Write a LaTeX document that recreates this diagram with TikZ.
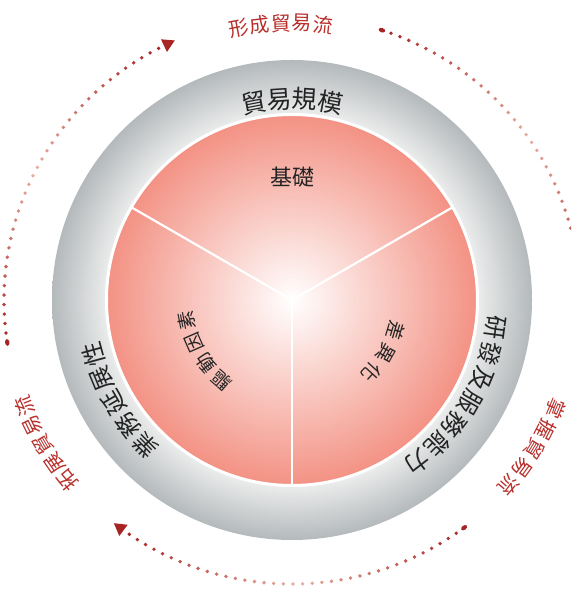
\documentclass[tikz,border=0pt]{standalone}
\usepackage{fontspec}
\newfontfamily\cjk{Noto Sans CJK TC}
\definecolor{dred}{RGB}{166,36,36}
\definecolor{lred}{RGB}{232,176,160}
\definecolor{labred}{RGB}{184,48,44}
\definecolor{txt}{RGB}{35,35,35}
\definecolor{pinkout}{RGB}{243,146,132}
\definecolor{ringin}{RGB}{236,237,237}
\definecolor{ringout}{RGB}{180,185,187}
\pgfdeclareradialshading{pinksh}{\pgfpoint{0bp}{0bp}}{color(0bp)=(white); color(25bp)=(pinkout); color(50bp)=(pinkout)}
\pgfdeclareradialshading{ringsh}{\pgfpoint{0bp}{0bp}}{color(0bp)=(ringin); color(19.3bp)=(ringin); color(25bp)=(ringout); color(50bp)=(ringout)}
\tikzset{
  ringtxt/.style={font=\cjk\fontsize{24}{24}\selectfont, text=txt, inner sep=0pt},
  toptxt/.style={font=\cjk\fontsize{25}{25}\selectfont, text=txt, inner sep=0pt},
  innertxt/.style={font=\cjk\fontsize{19}{19}\selectfont, text=txt, inner sep=0pt},
  basetxt/.style={font=\cjk\fontsize{22}{22}\selectfont, text=txt, inner sep=0pt},
  redtxt/.style={font=\cjk\fontsize{20}{20}\selectfont, text=labred, inner sep=0pt},
  spoke/.style={white, line width=2.2pt},
}
% #1 list, #2 count, #3 centre angle, #4 spacing (deg), #5 radius, #6 style, #7 name prefix
\newcommand\arctext[7]{%
  \foreach \c [count=\i] in {#1}{%
    \pgfmathsetmacro\ang{#3+(#2+1)/2*#4-\i*#4}%
    \node[#6, rotate=\ang-90] (#7-\i) at (\ang:#5) {\c};
  }%
}
% #1 start angle, #2 last dot angle, #3 number of dots, #4 arrow angle
\newcommand\dotarc[4]{%
  \fill[dred, shift={(#1:288 and 284)}, rotate=#1-90] (0,0) ellipse (3.4 and 2.2);
  \foreach \i in {1,...,#3}{%
    \pgfmathsetmacro\ang{#1+(#2-#1)*\i/#3}%
    \pgfmathsetmacro\mx{100*abs(2*\i/#3-1)}%
    \fill[dred!\mx!lred] (\ang:288 and 284) circle (1.9);
  }%
  \fill[dred, shift={(#4:288 and 284)}, rotate=#4-90] (7,0) -- (-5,7) -- (-5,-7) -- cycle;
}
\begin{document}
\begin{tikzpicture}[x=1pt,y=1pt]
\path[use as bounding box] (0,0) rectangle (571,592);
\clip (0,0) rectangle (571,592);
\begin{scope}[shift={(292,292)}]
  % grey ring
  \shade[shading=ringsh] (0,0) circle (240);
  % pink disc
  \shade[shading=pinksh] (0,0) circle (185);
  \draw[white, line width=3pt] (0,0) circle (185.5);
  \coordinate (c) at (0,0);
  \coordinate (s1) at (150:185);
  \coordinate (s2) at (30:185);
  \coordinate (s3) at (270:185);
  \draw[spoke] (c) -- (s1);
  \draw[spoke] (c) -- (s2);
  \draw[spoke] (c) -- (s3);
  % inner labels
  \node[basetxt] (base) at (0,123) {基礎};
  \arctext{驅,動,因,素}{4}{210}{12.7}{107}{innertxt}{drv}
  \arctext{差,異,化}{3}{-29.5}{12.8}{108}{innertxt}{dif}
  % ring labels
  \arctext{貿,易,規,模}{4}{90}{7.3}{201}{toptxt}{scale}
  \arctext{研,發,及,服,務,能,力}{7}{-30}{7.45}{205}{ringtxt}{rd}
  \arctext{業,務,延,展,性}{5}{210}{7.4}{206}{ringtxt}{ext}
  % red outer labels
  \arctext{形,成,貿,易,流}{5}{92.3}{4.35}{277}{redtxt}{form}
  \arctext{掌,握,貿,易,流}{5}{-31.5}{4.5}{285}{redtxt}{grasp}
  \arctext{拓,展,貿,易,流}{5}{210.2}{4.3}{288}{redtxt}{expand}
  % dotted arrows
  \dotarc{71.8}{-2.5}{39}{-5}
  \dotarc{-53.3}{-124.4}{37}{-126.8}
  \dotarc{188.6}{117.6}{37}{115.4}
\end{scope}
\end{tikzpicture}
\end{document}
